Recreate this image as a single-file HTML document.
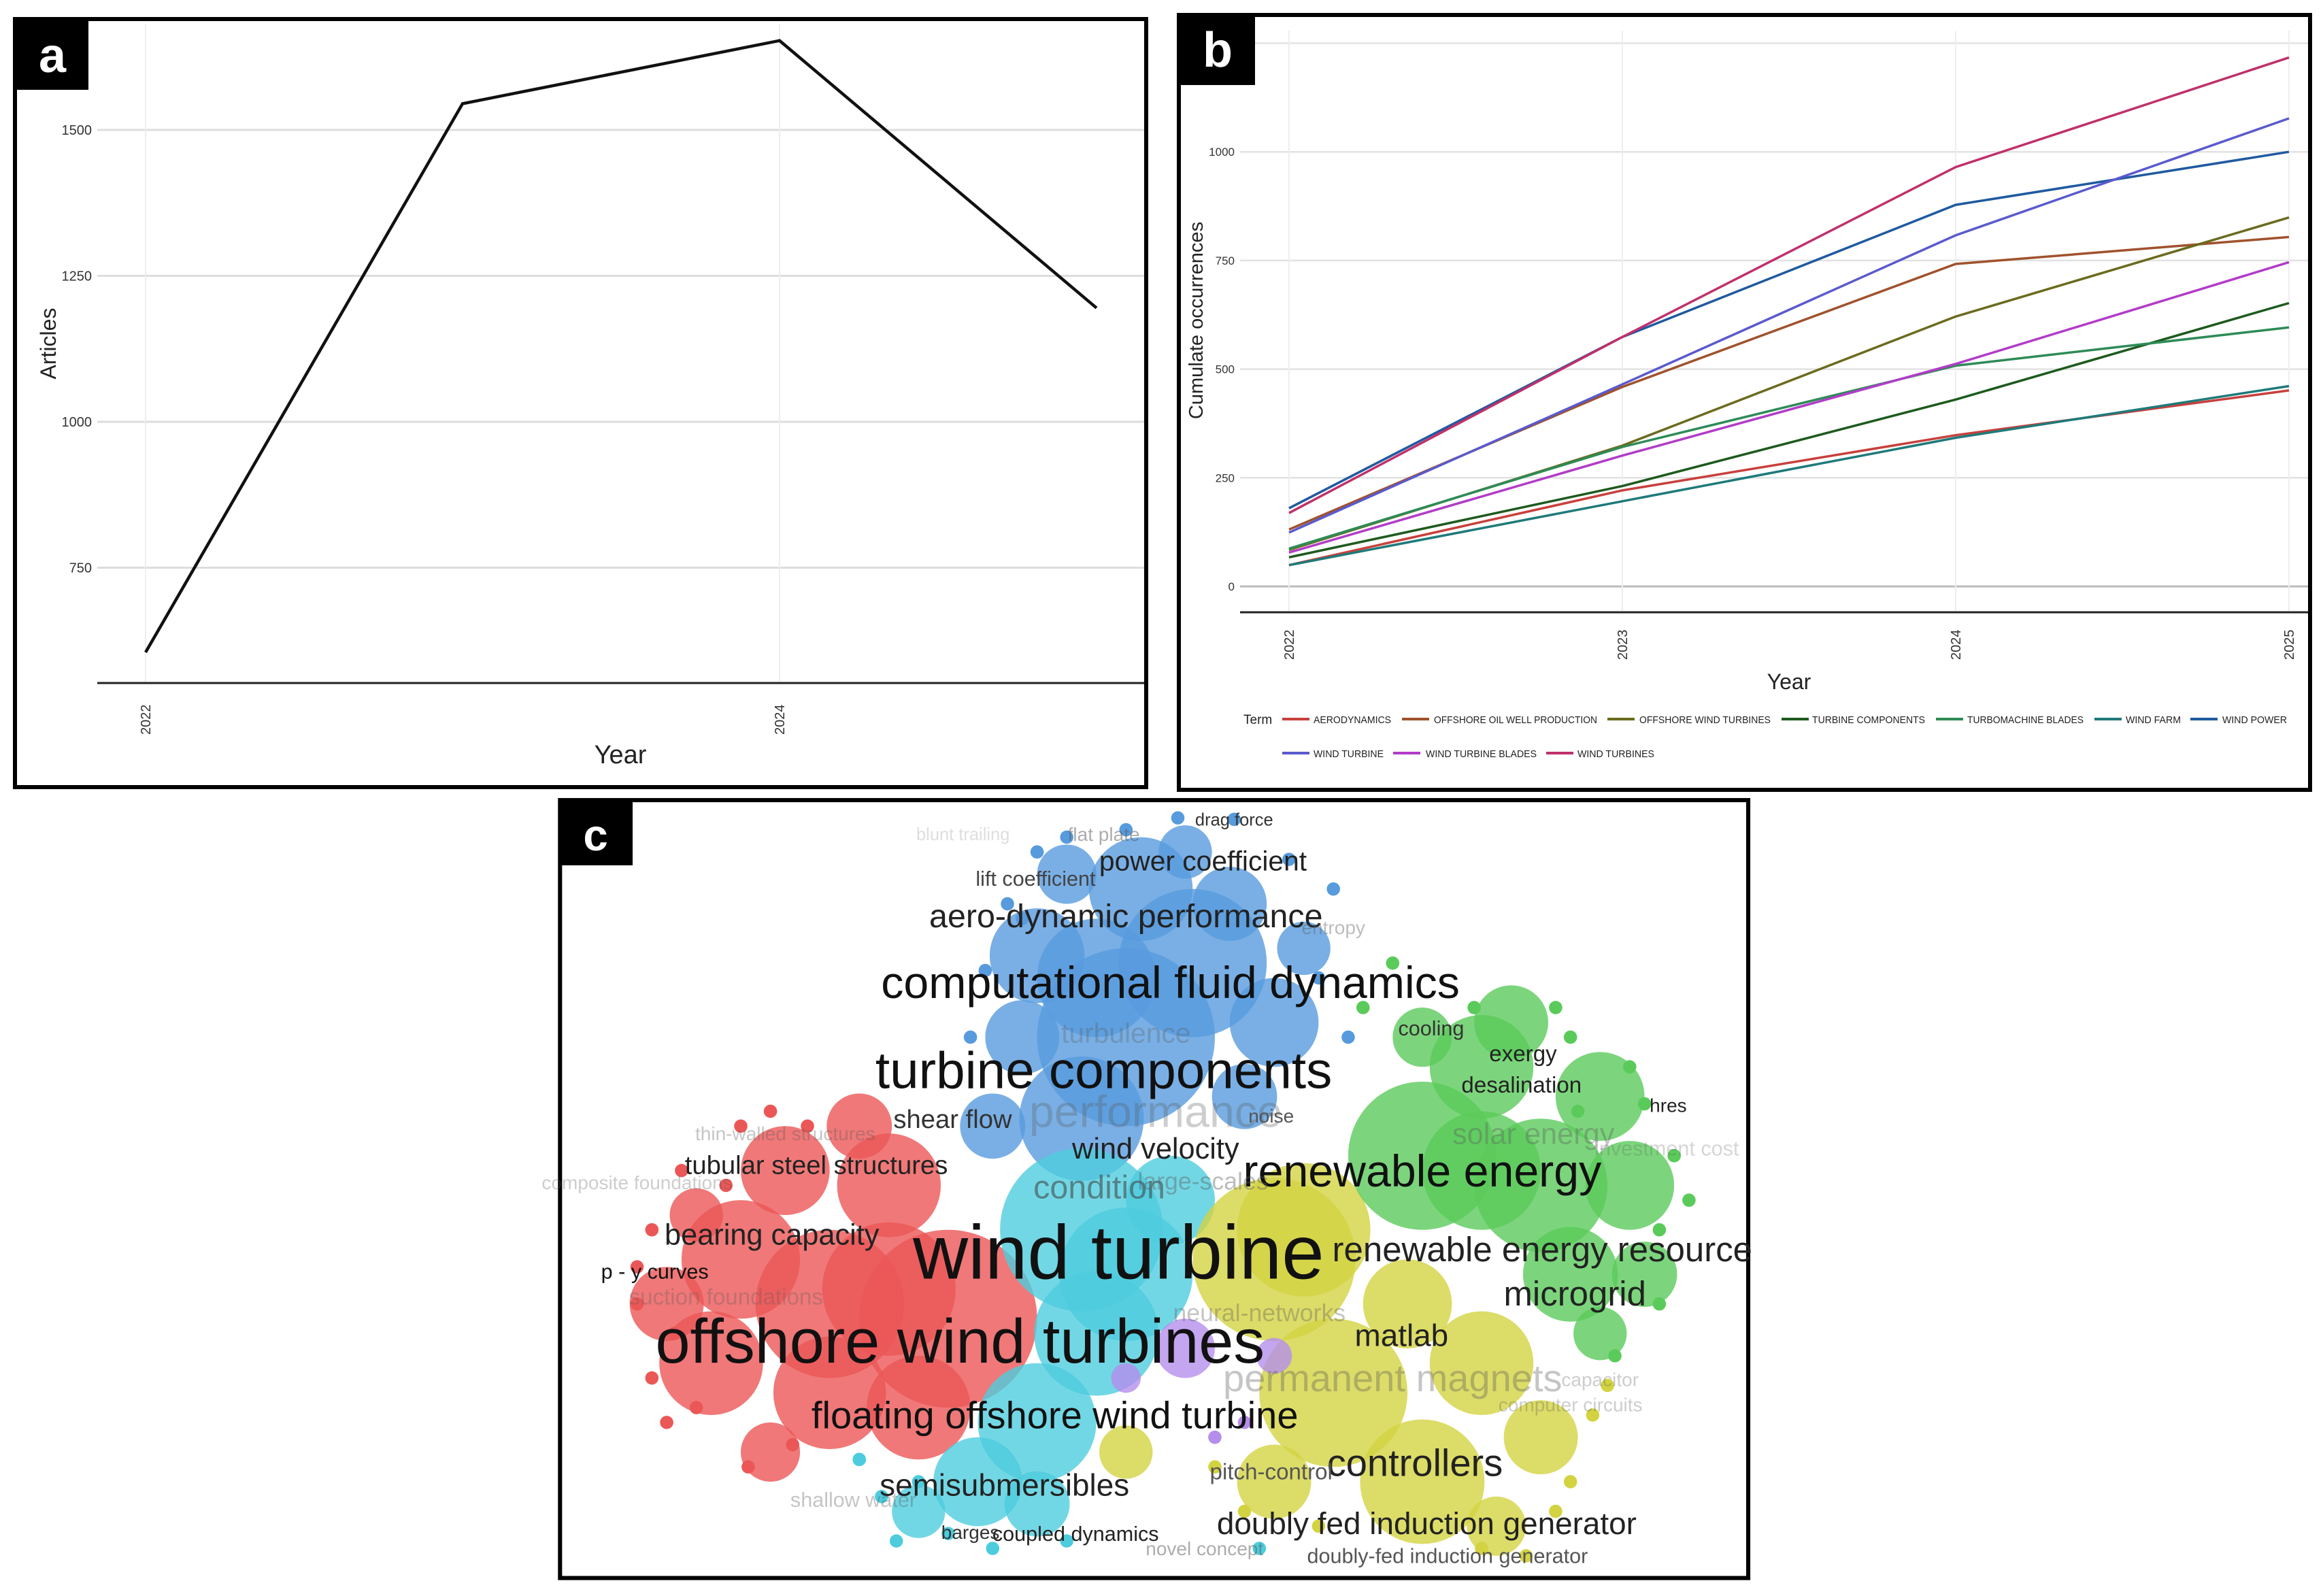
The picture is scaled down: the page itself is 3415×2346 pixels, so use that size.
<!DOCTYPE html>
<html><head><meta charset="utf-8"><style>
html,body{margin:0;padding:0;background:#fff;}
svg{display:block;}
text{font-family:"Liberation Sans Narrow","Liberation Sans",sans-serif;}
</style></head><body>
<svg id="fig" width="3415" height="2346" viewBox="0 0 3415 2346" xmlns="http://www.w3.org/2000/svg">
<g id="pa">
<rect x="22" y="28" width="1663" height="1129" fill="#fff" stroke="#000" stroke-width="6"/>
<g id="pa-grid"></g>
<line x1="143" y1="1004" x2="1682" y2="1004" stroke="#222" stroke-width="3"/>
<g id="pa-plot"></g>
<rect x="24" y="31" width="106" height="101" fill="#000"/>
<text x="77" y="106" font-size="72" font-weight="bold" fill="#fff" text-anchor="middle" font-family="Liberation Sans, sans-serif">a</text>
<text x="912" y="1122" font-size="38" text-anchor="middle" fill="#222">Year</text>
<text transform="translate(82,505) rotate(-90)" font-size="32" text-anchor="middle" fill="#222" font-family="Liberation Sans, sans-serif">Articles</text>
</g>
<g id="pb">
<rect x="1733" y="22" width="1663" height="1139" fill="#fff" stroke="#000" stroke-width="6"/>
<g id="pb-grid"></g>
<line x1="1823" y1="900" x2="3393" y2="900" stroke="#222" stroke-width="3"/>
<g id="pb-plot"></g>
<rect x="1735" y="25" width="110" height="100" fill="#000"/>
<text x="1790" y="98" font-size="72" font-weight="bold" fill="#fff" text-anchor="middle" font-family="Liberation Sans, sans-serif">b</text>
<text x="2630" y="1013" font-size="32" text-anchor="middle" fill="#222">Year</text>
<text transform="translate(1768,471) rotate(-90)" font-size="29" text-anchor="middle" fill="#222" font-family="Liberation Sans, sans-serif">Cumulate occurrences</text>
<g id="pb-legend"></g>
</g>
<g id="pc" transform="scale(2.178)">
<rect x="378" y="540" width="802" height="525" fill="#fff" stroke="#000" stroke-width="2.8"/>
<g id="pc-blobs" opacity="0.85"></g>
<g id="pc-words"></g>
<rect x="379" y="541" width="48" height="43" fill="#000"/>
<text x="402" y="574" font-size="30" font-weight="bold" fill="#fff" text-anchor="middle" font-family="Liberation Sans, sans-serif">c</text>
</g>
</svg>
<script>
var NS='http://www.w3.org/2000/svg';
function mk(tag,attrs,parent){var e=document.createElementNS(NS,tag);for(var k in attrs)e.setAttribute(k,attrs[k]);parent.appendChild(e);return e;}

/* ---------- Panel a data ---------- */
var aYears=[2022,2023,2024,2025];
var aArticles=[605,1545,1653,1195];
var aYTicks=[750,1000,1250,1500];
var aXTicks=[2022,2024];
function axX(y){return 214+(y-2022)*466;}
function axY(v){return 620-(v-1000)*0.858;}
var ga=document.getElementById('pa-grid');
aYTicks.forEach(function(t){
 var l=mk('line',{x1:143,x2:1682,y1:axY(t),y2:axY(t),stroke:'#ddd','stroke-width':3},ga);
 
 
 var tx=mk('text',{x:135,y:axY(t)+7,'font-size':20,'text-anchor':'end',fill:'#333'},ga);
 tx.textContent=t;
 
 
});
aXTicks.forEach(function(t){
 var l=mk('line',{x1:axX(t),x2:axX(t),y1:35,y2:1004,stroke:'#eee','stroke-width':2},ga);
 
 
 var tx=mk('text',{transform:'translate('+(axX(t)+7)+',1080) rotate(-90)','font-size':20,fill:'#333','font-family':'Liberation Sans, sans-serif'},ga);
 tx.textContent=t;
 
 
});
var pa=document.getElementById('pa-plot');
var pts=aYears.map(function(y,i){return axX(y)+','+axY(aArticles[i]);}).join(' ');
var pl=mk('polyline',{points:pts,fill:'none',stroke:'#111','stroke-width':4.5,'stroke-linejoin':'miter'},pa);



/* ---------- Panel b data ---------- */
var bYears=[2022,2023,2024,2025];
var bTerms=['AERODYNAMICS','OFFSHORE OIL WELL PRODUCTION','OFFSHORE WIND TURBINES','TURBINE COMPONENTS','TURBOMACHINE BLADES','WIND FARM','WIND POWER','WIND TURBINE','WIND TURBINE BLADES','WIND TURBINES'];
var bAerodynamics=[49,221,348,451];
var bOffshoreOil=[131,459,742,804];
var bOffshoreWind=[84,324,621,849];
var bTurbineComponents=[67,231,430,652];
var bTurbomachine=[87,321,508,596];
var bWindFarm=[49,196,342,461];
var bWindPower=[180,574,878,1000];
var bWindTurbine=[124,465,808,1077];
var bBlades=[78,301,512,746];
var bWindTurbines=[169,574,965,1217];
var bSeries=[bAerodynamics,bOffshoreOil,bOffshoreWind,bTurbineComponents,bTurbomachine,bWindFarm,bWindPower,bWindTurbine,bBlades,bWindTurbines];
var bColors=['#c8403c','#a0522d','#6b6b1f','#1e5a1e','#2e8b57','#1f7a7a','#1f5aa0','#5a5acd','#b23cc8','#c0306a'];
var bYTicks=[0,250,500,750,1000,1250];
function bxX(y){return 1895+(y-2022)*490;}
function byY(v){return 862-v*0.6388;}
var gb=document.getElementById('pb-grid');
bYTicks.forEach(function(t){
 var l=mk('line',{x1:1823,x2:3393,y1:byY(t),y2:byY(t),stroke:t===0?'#bbb':'#e2e2e2','stroke-width':t===0?3:2.5},gb);
 
 
 if(t<1250){
 var tx=mk('text',{x:1815,y:byY(t)+6,'font-size':17,'text-anchor':'end',fill:'#333'},gb);
 tx.textContent=t;
 
 }
});
bYears.forEach(function(t){
 var l=mk('line',{x1:bxX(t),x2:bxX(t),y1:45,y2:900,stroke:'#eee','stroke-width':2},gb);
 
 
 var tx=mk('text',{transform:'translate('+(bxX(t)+7)+',970) rotate(-90)','font-size':20,fill:'#333','font-family':'Liberation Sans, sans-serif'},gb);
 tx.textContent=t;
 
 
});
var pb=document.getElementById('pb-plot');
bSeries.forEach(function(s,i){
 var p=bYears.map(function(y,j){return bxX(y)+','+byY(s[j]);}).join(' ');
 var l=mk('polyline',{points:p,fill:'none',stroke:bColors[i],'stroke-width':3.5},pb);
 
 
});
var lg=document.getElementById('pb-legend');
var tt=mk('text',{x:1828,y:1064,'font-size':19,fill:'#222'},lg);tt.textContent='Term';


var legPos=[[1885,1931,114,1057],[2061,2108,240,1057],[2363,2410,193,1057],[2619,2664,166,1057],[2846,2892,171,1057],[3079,3125,81,1057],[3220,3267,95,1057],[1885,1931,103,1107],[2048,2096,163,1107],[2273,2319,113,1107]];
bTerms.forEach(function(t,i){
 var p=legPos[i];
 var l=mk('line',{x1:p[0],x2:p[0]+40,y1:p[3],y2:p[3],stroke:bColors[i],'stroke-width':4},lg);
 
 
 var tx=mk('text',{x:p[1],y:p[3]+6,'font-size':15,fill:'#222',textLength:p[2],lengthAdjust:'spacingAndGlyphs'},lg);
 tx.textContent=t;
 
 
});

/* ---------- Panel c network ---------- */
var blobs=[
['#3b8ad8',760,700,60],['#3b8ad8',805,650,50],['#3b8ad8',730,755,42],['#3b8ad8',700,645,32],['#3b8ad8',860,690,30],['#3b8ad8',770,600,35],['#3b8ad8',830,610,25],['#3b8ad8',720,590,20],['#3b8ad8',880,640,18],['#3b8ad8',800,575,18],['#3b8ad8',690,700,25],['#3b8ad8',670,760,22],['#3b8ad8',740,660,40],['#3b8ad8',840,740,22],
['#e83a3a',640,890,60],['#e83a3a',560,880,50],['#e83a3a',500,850,40],['#e83a3a',600,800,35],['#e83a3a',480,920,35],['#e83a3a',560,940,38],['#e83a3a',530,790,30],['#e83a3a',450,880,25],['#e83a3a',580,760,22],['#e83a3a',520,980,20],['#e83a3a',470,820,18],['#e83a3a',620,950,35],['#e83a3a',600,870,45],
['#2fc4d8',730,830,55],['#2fc4d8',700,960,40],['#2fc4d8',660,1000,30],['#2fc4d8',740,900,42],['#2fc4d8',620,1020,18],['#2fc4d8',700,1015,22],['#2fc4d8',790,810,30],['#2fc4d8',760,860,45],
['#cccc22',860,850,55],['#cccc22',900,940,50],['#cccc22',960,1000,42],['#cccc22',1000,920,35],['#cccc22',860,1000,25],['#cccc22',1040,970,25],['#cccc22',950,880,30],['#cccc22',1010,1030,20],['#cccc22',760,980,18],['#cccc22',880,830,45],
['#3ec23e',960,780,50],['#3ec23e',1040,800,45],['#3ec23e',1080,740,30],['#3ec23e',1000,720,35],['#3ec23e',1060,860,32],['#3ec23e',1100,800,30],['#3ec23e',1020,690,25],['#3ec23e',1110,860,22],['#3ec23e',960,700,20],['#3ec23e',1080,900,18],['#3ec23e',1000,790,40],
['#a97ae8',800,910,20],['#a97ae8',860,915,12],['#a97ae8',760,930,10]];
var dots=[[833,553,'#3b8ad8'],[795,552,'#3b8ad8'],[700,575,'#3b8ad8'],[680,610,'#3b8ad8'],[900,600,'#3b8ad8'],[665,655,'#3b8ad8'],[720,565,'#3b8ad8'],[760,560,'#3b8ad8'],[870,580,'#3b8ad8'],[890,660,'#3b8ad8'],[690,620,'#3b8ad8'],[655,700,'#3b8ad8'],[910,700,'#3b8ad8'],[920,680,'#3ec23e'],[940,650,'#3ec23e'],[1110,745,'#3ec23e'],[1130,780,'#3ec23e'],[1120,830,'#3ec23e'],[1090,915,'#3ec23e'],[1060,700,'#3ec23e'],[995,680,'#3ec23e'],[1140,810,'#3ec23e'],[1050,680,'#3ec23e'],[1120,880,'#3ec23e'],[1100,720,'#3ec23e'],[1065,750,'#3ec23e'],[430,855,'#e83a3a'],[440,830,'#e83a3a'],[455,900,'#e83a3a'],[470,950,'#e83a3a'],[500,760,'#e83a3a'],[520,750,'#e83a3a'],[460,790,'#e83a3a'],[505,990,'#e83a3a'],[440,930,'#e83a3a'],[430,880,'#e83a3a'],[450,960,'#e83a3a'],[490,800,'#e83a3a'],[545,760,'#e83a3a'],[535,975,'#e83a3a'],[580,985,'#2fc4d8'],[605,1040,'#2fc4d8'],[640,1035,'#2fc4d8'],[670,1045,'#2fc4d8'],[580,985,'#2fc4d8'],[595,1010,'#2fc4d8'],[620,1000,'#2fc4d8'],[720,1040,'#2fc4d8'],[1075,955,'#cccc22'],[1060,1000,'#cccc22'],[1030,1050,'#cccc22'],[890,1030,'#cccc22'],[820,990,'#cccc22'],[1085,935,'#cccc22'],[1050,1020,'#cccc22'],[1000,1045,'#cccc22'],[840,1020,'#cccc22'],[850,1045,'#2fc4d8'],[820,970,'#a97ae8'],[840,960,'#a97ae8']];
var gbl=document.getElementById('pc-blobs');
blobs.forEach(function(b){
 var c=mk('circle',{cx:b[1],cy:b[2],r:b[3],fill:b[0],'fill-opacity':0.8},gbl);
 
 
});
dots.forEach(function(d){
 var c=mk('circle',{cx:d[0],cy:d[1],r:4.5,fill:d[2]},gbl);
 
 
});
var words=[
['wind turbine',755,845,44,'#111'],['offshore wind turbines',648,905,36,'#111'],['turbine components',745,722,30,'#111'],['computational fluid dynamics',790,663,26,'#111'],['renewable energy',960,790,26,'#111'],['floating offshore wind turbine',712,955,22,'#111'],['aero-dynamic performance',760,618,19,'#222'],['power coefficient',812,581,16,'#222'],['renewable energy resource',1041,843,20,'#222'],['microgrid',1063,873,20,'#222'],['controllers',955,987,22,'#222'],['doubly fed induction generator',963,1028,18,'#222'],['matlab',946,901,18,'#222'],['semisubmersibles',678,1002,18,'#222'],['bearing capacity',521,833,17,'#222'],['tubular steel structures',551,786,15,'#222'],['wind velocity',780,775,17,'#222'],['condition',742,801,19,'rgba(60,60,60,0.55)'],['shear flow',643,755,15,'#333'],['p - y curves',442,858,12,'#111'],['lift coefficient',699,593,12,'#444'],['drag force',833,553,10,'#333'],['cooling',966,694,12,'#333'],['exergy',1028,711,13,'#222'],['desalination',1027,732,13,'#222'],['hres',1126,746,11,'#222'],['coupled dynamics',726,1035,12,'#222'],['barges',655,1034,11,'#333'],
['performance',780,750,26,'rgba(90,90,90,0.3)'],['permanent magnets',940,930,22,'rgba(90,90,90,0.35)'],['solar energy',1035,765,17,'rgba(90,90,90,0.35)'],['novel concept',813,1045,11,'rgba(90,90,90,0.5)'],['doubly-fed induction generator',977,1050,12,'#555'],['neural-networks',850,886,14,'rgba(90,90,90,0.35)'],['large-scales',812,797,14,'rgba(90,90,90,0.4)'],['pitch-control',858,993,13,'#555'],['shallow water',576,1012,12,'rgba(90,90,90,0.35)'],['turbulence',760,697,16,'rgba(90,90,90,0.3)'],['flat plate',745,563,11,'rgba(90,90,90,0.5)'],['blunt trailing',650,563,10,'rgba(90,90,90,0.2)'],['entropy',900,626,11,'rgba(90,90,90,0.4)'],['noise',858,753,11,'#555'],['composite foundations',430,798,11,'rgba(90,90,90,0.3)'],['thin-walled structures',530,765,11,'rgba(90,90,90,0.35)'],['computer circuits',1060,948,11,'rgba(90,90,90,0.3)'],['capacitor',1080,931,11,'rgba(90,90,90,0.3)'],['investment cost',1125,775,12,'rgba(90,90,90,0.25)'],['suction foundations',490,875,13,'rgba(90,90,90,0.3)']];
var gw=document.getElementById('pc-words');
words.forEach(function(w){
 var fs=w[3]*1.17;
 var t=mk('text',{x:w[1],y:w[2]+fs*0.35,'font-size':fs,'text-anchor':'middle',fill:w[4],'font-family':'Liberation Sans, sans-serif'},gw);
 t.textContent=w[0];
 
 
});
</script>
</body></html>
